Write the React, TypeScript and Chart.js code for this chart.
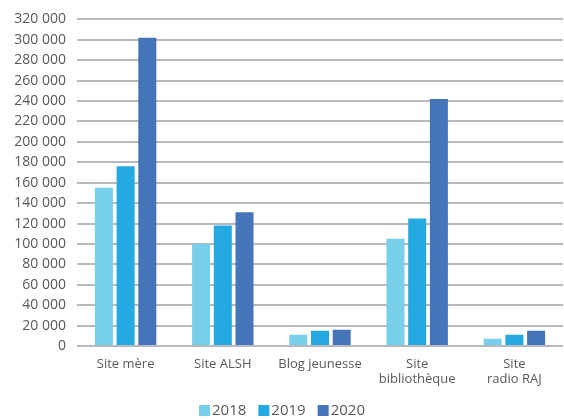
import React, { useEffect, useRef } from "react";
import { Chart, registerables } from "chart.js";

Chart.register(...registerables);

const categories: (string | string[])[] = [
  "Site mère",
  "Site ALSH",
  "Blog jeunesse",
  ["Site", "bibliothèque"],
  ["Site", "radio RAJ"],
];
const seriesNames = ["2018", "2019", "2020"];
const values2018 = [155000, 100000, 11000, 105000, 7000];
const values2019 = [176000, 118000, 15000, 125000, 11000];
const values2020 = [302000, 131000, 16000, 242000, 15000];
const colors = ["#78cfea", "#24aae1", "#4575b8"];
const yMax = 320000;
const yStep = 20000;

const fmt = (v: number) => String(v).replace(/\B(?=(\d{3})+(?!\d))/g, " ");

const customLegend = {
  id: "customLegend",
  afterDraw(chart: any) {
    const ctx = chart.ctx as CanvasRenderingContext2D;
    const box = 11;
    const gapText = 2;
    const gapItem = 12;
    const fontSize = 15;
    ctx.save();
    ctx.font = `${fontSize}px 'Open Sans', sans-serif`;
    ctx.textBaseline = "middle";
    const items = chart.data.datasets.map((d: any) => ({
      label: d.label as string,
      color: d.backgroundColor as string,
      w: ctx.measureText(d.label).width,
    }));
    const total =
      items.reduce((a: number, it: any) => a + box + gapText + it.w, 0) + gapItem * (items.length - 1);
    let x = chart.width / 2 - total / 2;
    const cy = 410.5;
    items.forEach((it: any) => {
      ctx.fillStyle = it.color;
      ctx.fillRect(x, cy - box / 2, box, box);
      x += box + gapText;
      ctx.fillStyle = "#58595b";
      ctx.textAlign = "left";
      ctx.fillText(it.label, x, cy);
      x += it.w + gapItem;
    });
    ctx.restore();
  },
};

export default function App() {
  const ref = useRef<HTMLCanvasElement | null>(null);
  useEffect(() => {
    if (!ref.current) return;
    Chart.defaults.font.family = "'Open Sans', sans-serif";
    Chart.defaults.color = "#58595b";
    const data = [values2018, values2019, values2020];
    const chart = new Chart(ref.current, {
      type: "bar",
      data: {
        labels: categories,
        datasets: seriesNames.map((n, i) => ({
          label: n,
          data: data[i],
          backgroundColor: colors[i],
          borderWidth: 0,
          barPercentage: 0.83,
          categoryPercentage: 0.67,
        })),
      },
      plugins: [customLegend],
      options: {
        animation: false,
        responsive: false,
        devicePixelRatio: 1,
        layout: { padding: { top: 7, left: 0, right: 1, bottom: 23 } },
        plugins: {
          legend: { display: false },
          tooltip: { enabled: false },
        },
        scales: {
          x: {
            grid: { display: false },
            border: { display: false },
            ticks: { font: { size: 13 }, padding: 2, maxRotation: 0, autoSkip: false },
            afterFit: (s: any) => {
              s.height = 50;
            },
          },
          y: {
            min: 0,
            max: yMax,
            grid: { color: "#b8b8bf", lineWidth: 2, drawTicks: false },
            border: { display: false },
            ticks: {
              stepSize: yStep,
              padding: 11,
              font: { size: 14 },
              callback: (v: any) => fmt(Number(v)),
            },
            afterFit: (s: any) => {
              s.width = 77;
            },
          },
        },
      },
    });
    return () => chart.destroy();
  }, []);
  return (
    <div style={{ position: "fixed", left: 0, top: 0, width: 564, height: 419, background: "#fff" }}>
      <canvas ref={ref} width={564} height={419} style={{ width: 564, height: 419 }} />
    </div>
  );
}
